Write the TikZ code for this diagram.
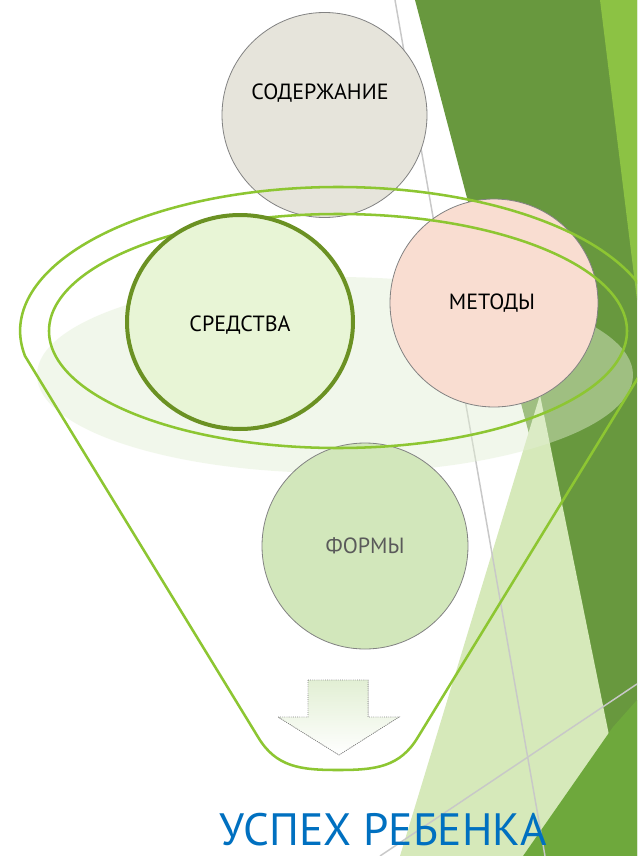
\documentclass[tikz,border=0pt]{standalone}
\usepackage{fontspec}
\setmainfont{PT Sans}
\usetikzlibrary{shapes.geometric}
\definecolor{darkgr}{RGB}{104,152,62}
\definecolor{brightgr}{RGB}{140,194,68}
\definecolor{palegr}{RGB}{214,233,186}
\definecolor{medgr}{RGB}{110,168,60}
\definecolor{rimgr}{RGB}{141,198,50}
\definecolor{thickgr}{RGB}{107,145,35}
\definecolor{shadowgr}{RGB}{226,239,212}
\definecolor{sodfill}{RGB}{230,228,219}
\definecolor{metfill}{RGB}{249,221,209}
\definecolor{sredfill}{RGB}{232,245,214}
\definecolor{formfill}{RGB}{210,231,187}
\definecolor{edgegray}{RGB}{130,130,130}
\definecolor{linegray}{RGB}{200,200,200}
\definecolor{titleblue}{RGB}{0,112,192}
\definecolor{formtext}{RGB}{90,90,90}
\tikzset{
  bubble/.style={circle, inner sep=0pt, outer sep=0pt, draw=edgegray, line width=0.6pt},
  lbl/.style={inner sep=0pt, font=\fontsize{16.5}{18}\selectfont, text=black},
  rim/.style={draw=rimgr, line width=1.9pt},
  guide/.style={draw=linegray, line width=1.1pt},
}
\begin{document}
\begin{tikzpicture}[x=0.75pt,y=-0.75pt]
\useasboundingbox (0,0) rectangle (637,856);
\clip (0,0) rectangle (637,856);
\fill[white] (0,0) rectangle (637,856);
% background decoration
\fill[darkgr] (415,0) -- (637,0) -- (637,856) -- (640,856) -- cycle;
\fill[brightgr] (600,0) -- (637,0) -- (637,300) -- cycle;
\fill[palegr] (540,395) -- (610,740) -- (523,856) -- (400,856) -- cycle;
\fill[medgr] (523,856) -- (613,727) -- (637,700) -- (637,856) -- cycle;
% thin grey guide lines
\coordinate (g1a) at (395,0);
\coordinate (g1b) at (545,856);
\coordinate (g2a) at (380,856);
\coordinate (g2b) at (637,684);
\draw[guide] (g1a) -- (g1b);
\draw[guide] (g2a) -- (g2b);
% shadow under the rim
\fill[shadowgr, opacity=0.45] (335,375) ellipse [x radius=298, y radius=98];
% circles behind the funnel
\node[bubble, fill=sodfill, minimum size=153.75pt] (sod) at (324.5,115) {};
\node[bubble, fill=metfill, minimum size=156pt] (met) at (494,303) {};
\node[bubble, fill=formfill, minimum size=154.5pt] (form) at (365,546) {};
% funnel
\coordinate (fl) at (25,356);
\coordinate (fr) at (651,356);
\coordinate (bl) at (258,737);
\coordinate (br) at (418,737);
\coordinate (bm) at (338,770);
\draw[rim] (fl) arc [start angle=170, end angle=370, x radius=318, y radius=144]
  -- (br) .. controls (400,767) and (376,770) .. (bm)
  .. controls (300,770) and (276,767) .. (bl) -- cycle;
\draw[rim] (338,331) ellipse [x radius=289, y radius=117];
% front circle
\node[ellipse, inner sep=0pt, outer sep=0pt, fill=sredfill, draw=thickgr, line width=3pt,
  minimum width=169.5pt, minimum height=160.5pt] (sred) at (240,322) {};
% arrow
\fill[top color=shadowgr, bottom color=white, draw=edgegray, line width=0.6pt, densely dotted]
  (308,680) -- (368,680) -- (368,717) -- (399,717) -- (339,755) -- (278,717) -- (308,717) -- cycle;
% labels
\node[lbl] (sodt) at (320,93) {СОДЕРЖАНИЕ};
\node[lbl] (mett) at (492,303) {МЕТОДЫ};
\node[lbl] (sredt) at (240,325) {СРЕДСТВА};
\node[lbl, text=formtext] (formt) at (365,546) {ФОРМЫ};
\node[anchor=base west, inner sep=0pt, text=titleblue, font=\fontsize{34}{40}\selectfont] (title) at (219,845) {УСПЕХ РЕБЕНКА};
\end{tikzpicture}
\end{document}
